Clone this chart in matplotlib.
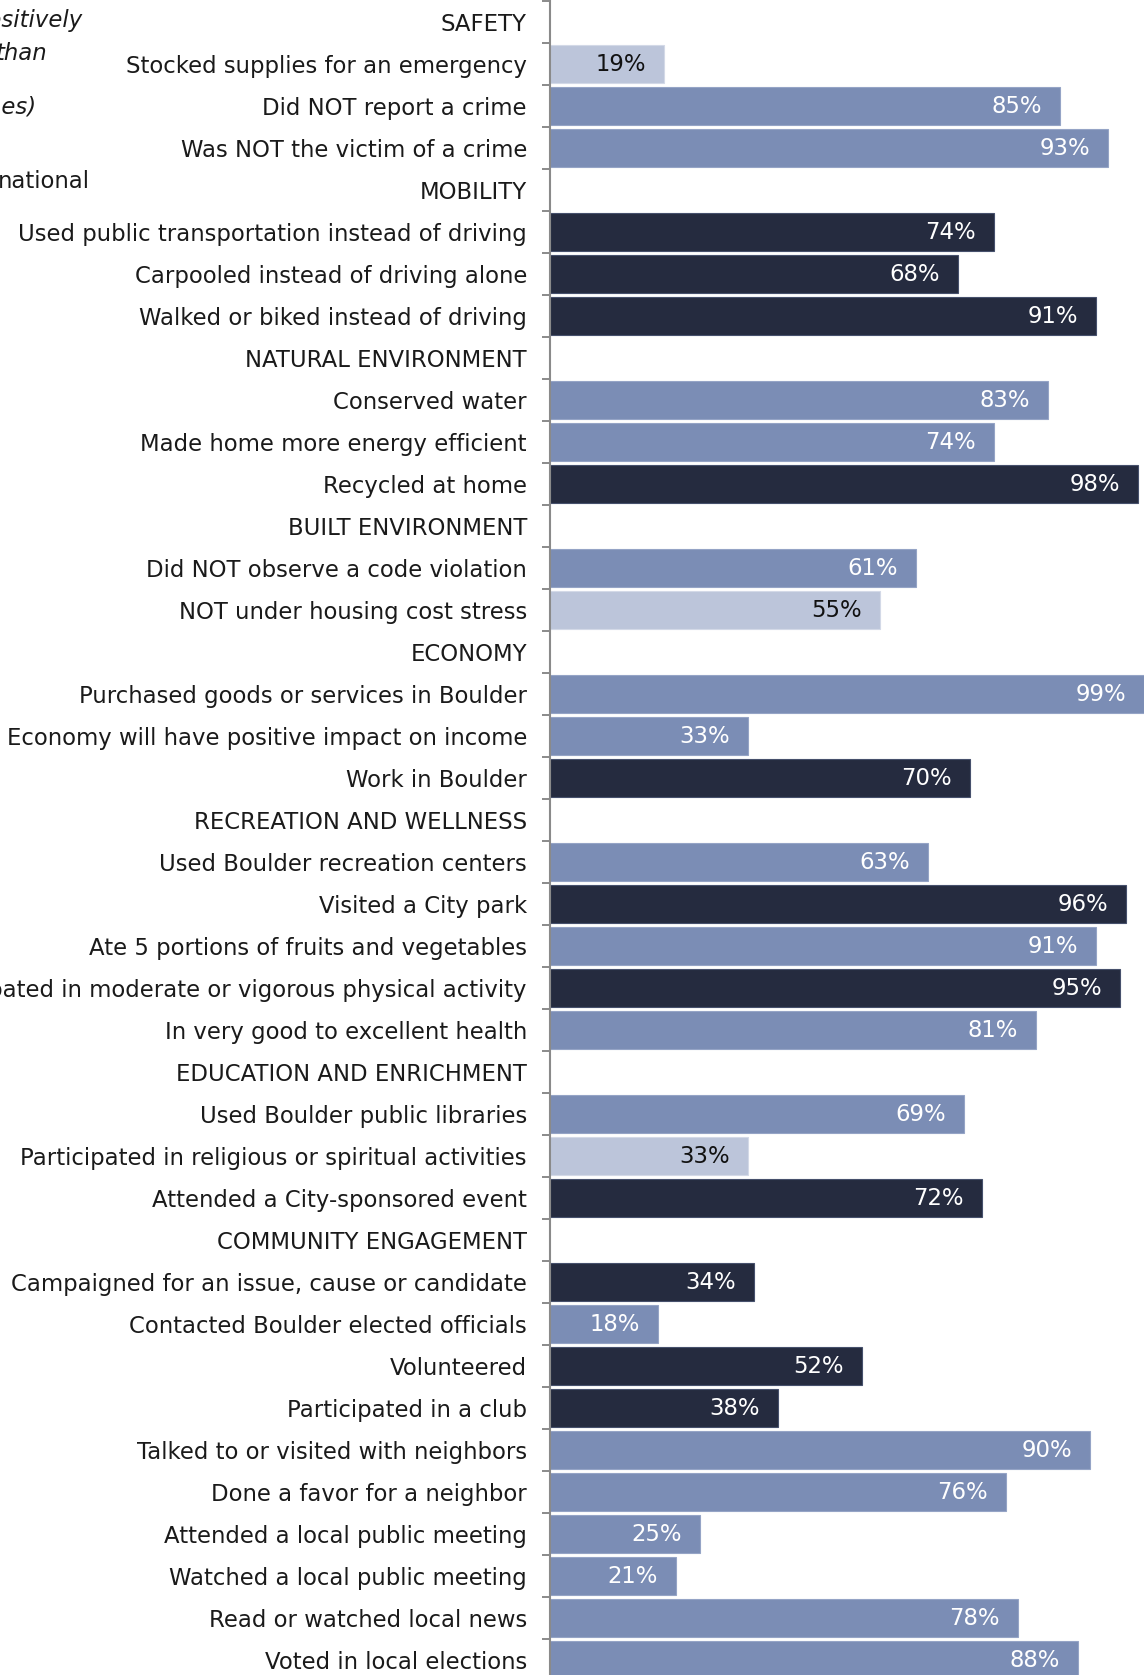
import matplotlib.pyplot as plt
import numpy as np

# rows top to bottom; section headings have no value
labels = [
    "SAFETY",
    "Stocked supplies for an emergency",
    "Did NOT report a crime",
    "Was NOT the victim of a crime",
    "MOBILITY",
    "Used public transportation instead of driving",
    "Carpooled instead of driving alone",
    "Walked or biked instead of driving",
    "NATURAL ENVIRONMENT",
    "Conserved water",
    "Made home more energy efficient",
    "Recycled at home",
    "BUILT ENVIRONMENT",
    "Did NOT observe a code violation",
    "NOT under housing cost stress",
    "ECONOMY",
    "Purchased goods or services in Boulder",
    "Economy will have positive impact on income",
    "Work in Boulder",
    "RECREATION AND WELLNESS",
    "Used Boulder recreation centers",
    "Visited a City park",
    "Ate 5 portions of fruits and vegetables",
    "Participated in moderate or vigorous physical activity",
    "In very good to excellent health",
    "EDUCATION AND ENRICHMENT",
    "Used Boulder public libraries",
    "Participated in religious or spiritual activities",
    "Attended a City-sponsored event",
    "COMMUNITY ENGAGEMENT",
    "Campaigned for an issue, cause or candidate",
    "Contacted Boulder elected officials",
    "Volunteered",
    "Participated in a club",
    "Talked to or visited with neighbors",
    "Done a favor for a neighbor",
    "Attended a local public meeting",
    "Watched a local public meeting",
    "Read or watched local news",
    "Voted in local elections",
]

values = [
    None, 19, 85, 93,
    None, 74, 68, 91,
    None, 83, 74, 98,
    None, 61, 55,
    None, 99, 33, 70,
    None, 63, 96, 91, 95, 81,
    None, 69, 33, 72,
    None, 34, 18, 52, 38, 90, 76, 25, 21, 78, 88,
]

shades = [
    None, "light", "mid", "mid",
    None, "dark", "dark", "dark",
    None, "mid", "mid", "dark",
    None, "mid", "light",
    None, "mid", "mid", "dark",
    None, "mid", "dark", "mid", "dark", "mid",
    None, "mid", "light", "dark",
    None, "dark", "mid", "dark", "dark", "mid", "mid", "mid", "mid", "mid", "mid",
]

fill = {"light": "#bcc5da", "mid": "#7b8db5", "dark": "#252b3f"}
edge = {"light": "#d3d9e7", "mid": "#95a4c6", "dark": "#46506c"}
text_on = {"light": "#111111", "mid": "white", "dark": "white"}

W, H = 1144, 1675
fig = plt.figure(figsize=(W / 100, H / 100), dpi=100)
ax = fig.add_axes([550 / W, 1 - 1680.7 / H, 600 / W, 1680 / H])

rows = np.arange(len(labels))
bar_rows = [r for r in rows if values[r] is not None]
ax.barh(bar_rows, [values[r] for r in bar_rows], height=0.9,
        color=[fill[shades[r]] for r in bar_rows],
        edgecolor=[edge[shades[r]] for r in bar_rows], linewidth=0.8)

for r in bar_rows:
    ax.text(values[r] - 3, r + 0.03, f"{values[r]}%", ha="right", va="center",
            fontsize=16.4, color=text_on[shades[r]])

ax.set_xlim(0, 100)
ax.set_ylim(len(labels) - 0.5, -0.5)

ax.set_yticks(rows)
ax.set_yticklabels(labels, fontsize=16.4, color="#1a1a1a")
ax.set_yticks(np.arange(len(labels) + 1) - 0.5, minor=True)
ax.tick_params(axis="y", which="major", length=0, pad=16.6)
ax.tick_params(axis="y", which="minor", length=5.8, width=1.4, color="#8a8a8a")
ax.xaxis.set_visible(False)

for side in ["top", "right", "bottom"]:
    ax.spines[side].set_visible(False)
ax.spines["left"].set_color("#8a8a8a")
ax.spines["left"].set_linewidth(1.5)

# key text on the left, running off the edge
notes = [
    ("positively", 82, 21, "italic"),
    ("than", 47, 53, "italic"),
    ("times)", 37, 107, "italic"),
    ("national", 90, 182, "normal"),
]
for txt, x, y, st in notes:
    fig.text(x / W, 1 - y / H, txt, ha="right", va="center", fontsize=16.4,
             style=st, color="#1a1a1a")

fig.savefig("out.png", dpi=100)
